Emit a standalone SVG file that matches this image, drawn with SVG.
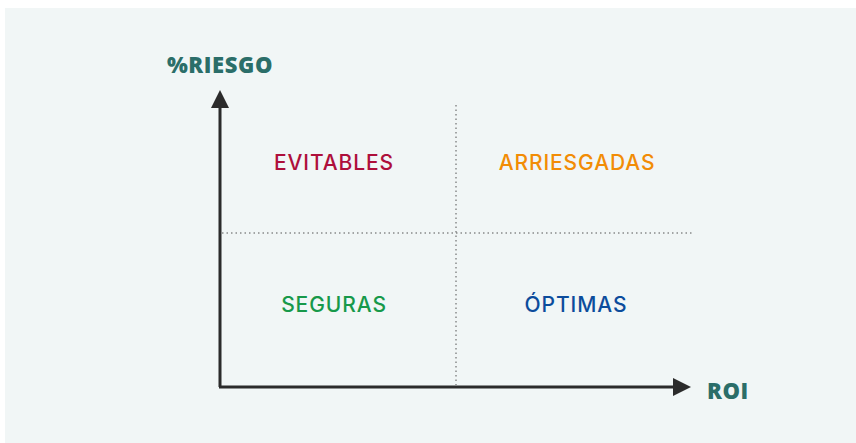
<svg xmlns="http://www.w3.org/2000/svg" width="856" height="443" viewBox="0 0 856 443">
<style>
.lbl{font-family:Inter,"Open Sans","Liberation Sans",sans-serif;font-size:21px;font-weight:500;letter-spacing:0.9px;text-anchor:middle}
.ax{font-family:"Open Sans","Liberation Sans",sans-serif;font-size:22px;font-weight:800;fill:#2b6e69;letter-spacing:0.6px}
.axis{stroke:#2b2b2b;stroke-width:3;fill:none}
.dot{stroke:#555;stroke-width:1;stroke-dasharray:1.5 3;fill:none}
</style>
<defs>
<marker id="ah" markerWidth="6" markerHeight="6" refX="0" refY="3" orient="auto" markerUnits="strokeWidth">
<path d="M0,0 L6,3 L0,6 Z" fill="#2b2b2b"/>
</marker>
</defs>
<rect x="0" y="0" width="856" height="443" fill="#ffffff"/>
<rect x="5" y="8" width="851" height="435" fill="#f1f6f6"/>
<g id="connectors">
<path class="axis" d="M220,387 L220,108" marker-end="url(#ah)"/>
<path class="axis" d="M219,387 L673,387" marker-end="url(#ah)"/>
<path class="dot" d="M456,105 L456,385"/>
<path class="dot" d="M222,233 L693,233"/>
</g>
<g id="axis-y"><text class="ax" x="220" y="73" text-anchor="middle">%RIESGO</text></g>
<g id="axis-x"><text class="ax" x="707" y="399">ROI</text></g>
<g id="evitables"><text class="lbl" x="334" y="170" fill="#ae0f3b">EVITABLES</text></g>
<g id="arriesgadas"><text class="lbl" x="577" y="170" fill="#f28c05">ARRIESGADAS</text></g>
<g id="seguras"><text class="lbl" x="334" y="312" fill="#17994a">SEGURAS</text></g>
<g id="optimas"><text class="lbl" x="576" y="312" fill="#0c4c9c">ÓPTIMAS</text></g>
</svg>
